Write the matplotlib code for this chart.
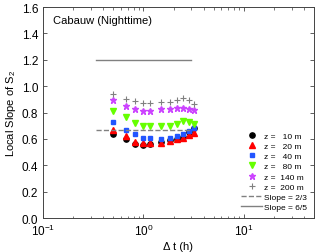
import matplotlib
matplotlib.use("Agg")
import matplotlib.pyplot as plt
import numpy as np
from matplotlib.ticker import LogLocator, NullFormatter, MultipleLocator

plt.rcParams['font.family'] = ['Liberation Sans', 'DejaVu Sans']
plt.rcParams['mathtext.fontset'] = 'custom'
plt.rcParams['mathtext.rm'] = 'Liberation Sans'
plt.rcParams['mathtext.it'] = 'Liberation Sans:italic'

dt = [0.5, 0.667, 0.833, 1.0, 1.167, 1.5, 1.833, 2.167, 2.5, 2.833, 3.167]
z10 = [0.64, 0.60, 0.565, 0.555, 0.56, 0.575, 0.59, 0.60, 0.613, 0.655, 0.68]
z20 = [0.67, 0.625, 0.58, 0.567, 0.567, 0.573, 0.586, 0.598, 0.611, 0.631, 0.649]
z40 = [0.725, 0.67, 0.636, 0.606, 0.606, 0.601, 0.606, 0.624, 0.636, 0.66, 0.68]
z80 = [0.813, 0.763, 0.72, 0.697, 0.697, 0.702, 0.702, 0.712, 0.737, 0.725, 0.712]
z140 = [0.897, 0.851, 0.826, 0.813, 0.813, 0.831, 0.831, 0.838, 0.838, 0.828, 0.82]
z200 = [0.94, 0.905, 0.889, 0.876, 0.876, 0.884, 0.884, 0.894, 0.909, 0.894, 0.864]
labels = ['z =   10 m', 'z =   20 m', 'z =   40 m', 'z =   80 m', 'z =  140 m', 'z =  200 m']
slope_x = [1/3, 3.0]
slope23 = 2/3
slope65 = 6/5

fig = plt.figure(figsize=(3.19, 2.53), dpi=100)
ax = fig.add_axes([0.135, 0.134, 0.849, 0.834])

styles = [
    dict(marker='o', color='black', ms=3.8),
    dict(marker='^', color='#ff0000', ms=3.8),
    dict(marker='s', color='#2255ff', ms=3.4),
    dict(marker='v', color='#66ff00', ms=4.2),
    dict(marker='*', color='#cc44ff', ms=4.8),
    dict(marker='+', color='#808080', ms=4.8, mew=0.8),
]
series = [z10, z20, z40, z80, z140, z200]
for s, st, lab in zip(series, styles, labels):
    ax.plot(dt, s, linestyle='none', label=lab, **st)

ax.plot(slope_x, [slope23, slope23], '--', color='#808080', lw=1.0, label='Slope = 2/3')
ax.plot(slope_x, [slope65, slope65], '-', color='#808080', lw=1.0, label='Slope = 6/5')

ax.set_xscale('log')
ax.set_xlim(0.1, 50)
ax.set_ylim(0, 1.6)
ax.yaxis.set_major_locator(MultipleLocator(0.2))
ax.yaxis.set_major_formatter(matplotlib.ticker.FormatStrFormatter('%.1f'))
ax.xaxis.set_major_locator(LogLocator(base=10, numticks=10))
ax.xaxis.set_minor_locator(LogLocator(base=10, subs=np.arange(2, 10), numticks=10))
ax.xaxis.set_minor_formatter(NullFormatter())
ax.tick_params(which='both', direction='in', top=True, right=True, labelsize=8.5, color='#444444')
ax.tick_params(which='major', length=3, width=0.6)
ax.tick_params(which='minor', length=1.8, width=0.5)
for sp in ax.spines.values():
    sp.set_color('#444444')
    sp.set_linewidth(0.7)

ax.set_xlabel('Δ t (h)', fontsize=8, labelpad=2)
ax.set_ylabel('Local Slope of S$_2$', fontsize=8, labelpad=3)
ax.text(0.035, 0.94, 'Cabauw (Nighttime)', transform=ax.transAxes, fontsize=8, va='center')

leg = ax.legend(loc='lower right', fontsize=6, frameon=False, handlelength=2.5,
                handletextpad=0.2, labelspacing=0.28, borderaxespad=0.45)

fig.savefig('out.png', dpi=100)
